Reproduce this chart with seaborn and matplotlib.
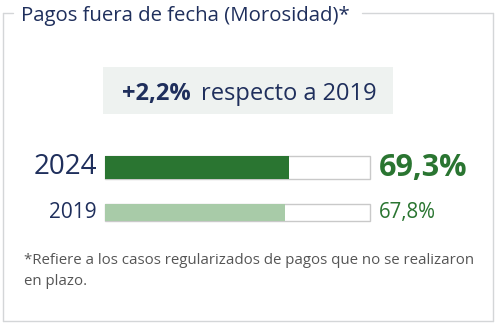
import matplotlib
matplotlib.use("Agg")
import matplotlib.pyplot as plt
import seaborn as sns
import pandas as pd
from matplotlib.patches import Rectangle
from matplotlib.lines import Line2D

years = ["2024", "2019"]
values = [69.3, 67.8]
value_labels = ["69,3%", "67,8%"]
title = "Pagos fuera de fecha (Morosidad)*"
delta_label = "+2,2%"
delta_text = "respecto a 2019"
footnote = "*Refiere a los casos regularizados de pagos que no se realizaron\nen plazo."

sns.set_theme(style="white")
plt.rcParams["font.family"] = ["Open Sans", "DejaVu Sans"]

W, H = 497, 323
fig = plt.figure(figsize=(W / 100, H / 100), dpi=100)
fig.patch.set_facecolor("white")

navy = "#1f2f5c"
green_dark = "#2a7531"
green_light = "#a8cba8"
green_text = "#2a7531"
grey_edge = "#c9c9c9"

def fx(x):
    return x / W

def fy(y):
    return 1 - y / H

# Outer frame with gap for title
frame_col = "#d4d6d8"
fig.add_artist(Line2D([fx(2.5), fx(2.5)], [fy(13), fy(320.5)], color=frame_col, lw=1.0))
fig.add_artist(Line2D([fx(493), fx(493)], [fy(13), fy(320.5)], color=frame_col, lw=1.0))
fig.add_artist(Line2D([fx(2.5), fx(493)], [fy(320.5), fy(320.5)], color=frame_col, lw=1.0))
fig.add_artist(Line2D([fx(2.5), fx(13)], [fy(13), fy(13)], color=frame_col, lw=1.0))
fig.add_artist(Line2D([fx(362), fx(493)], [fy(13), fy(13)], color=frame_col, lw=1.0))

fig.text(fx(21), fy(16), title, color=navy, fontsize=14.7, ha="left", va="center")

# Delta box
fig.add_artist(Rectangle((fx(103), fy(114)), fx(393) - fx(103), fy(67) - fy(114),
                         facecolor="#eef2f0", edgecolor="none", transform=fig.transFigure))
fig.text(fx(122), fy(94), delta_label, color=navy, fontsize=17, fontweight="bold",
         ha="left", va="center")
fig.text(fx(201), fy(94), delta_text, color=navy, fontsize=17, ha="left", va="center")

# Bars
rows = [
    dict(top=156, bottom=179, color=green_dark, ysize=20, vsize=22, vweight="bold"),
    dict(top=204, bottom=221, color=green_light, ysize=15, vsize=14.8, vweight="normal"),
]
left, right = 105, 370
for i, r in enumerate(rows):
    ax = fig.add_axes([fx(left), fy(r["bottom"]), fx(right) - fx(left),
                       fy(r["top"]) - fy(r["bottom"])])
    df = pd.DataFrame({"year": [years[i]], "value": [values[i]], "track": [100.0]})
    sns.barplot(data=df, x="track", y="year", orient="h", width=1.0, ax=ax,
                color="white", edgecolor=grey_edge, linewidth=1.0, saturation=1)
    sns.barplot(data=df, x="value", y="year", orient="h", width=1.0, ax=ax,
                color=r["color"], edgecolor="none", linewidth=0, saturation=1)
    for p in ax.patches:
        p.set_clip_on(False)
    ax.set_xlim(0, 100)
    ax.set_ylim(0.5, -0.5)
    ax.axis("off")
    yc = (r["top"] + r["bottom"]) / 2
    fig.text(fx(97), fy(yc), years[i], color=navy, fontsize=r["ysize"],
             ha="right", va="center")
    fig.text(fx(379), fy(yc), value_labels[i], color=green_text, fontsize=r["vsize"],
             fontweight=r["vweight"], ha="left", va="center")

fig.text(fx(24), fy(271), footnote, color="#555555", fontsize=10.8, ha="left", va="center",
         linespacing=1.5)

fig.savefig("out.png", dpi=100, facecolor="white")
